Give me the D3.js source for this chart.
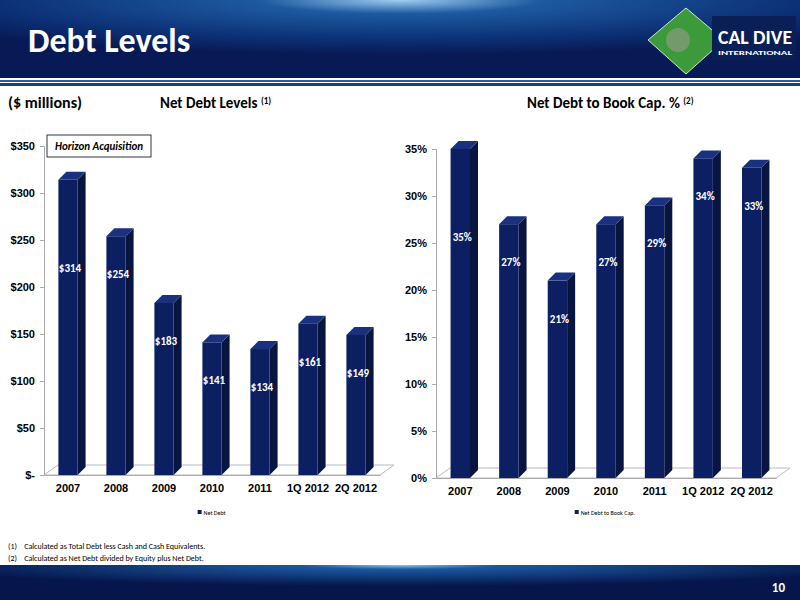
<!DOCTYPE html>
<html><head><meta charset="utf-8">
<script src="https://cdn.jsdelivr.net/npm/d3@7"></script>
<style>body{margin:0;background:#fff}svg{display:block;font-family:Calibri,"Liberation Sans Narrow","Open Sans",sans-serif}</style>
</head><body>
<script>
const categories = ["2007","2008","2009","2010","2011","1Q 2012","2Q 2012"];
const netDebt = [314,254,183,141,134,161,149];
const netDebtPct = [35,27,21,27,29,34,33];
const debtTicks = [0,50,100,150,200,250,300,350];
const pctTicks = [0,5,10,15,20,25,30,35];

const svg = d3.select("body").append("svg").attr("width",800).attr("height",600);
const defs = svg.append("defs");
const hg = defs.append("radialGradient").attr("id","hdr").attr("cx","0.5").attr("cy","0").attr("r","0.7");
hg.append("stop").attr("offset","0").attr("stop-color","#9fd0f0");
hg.append("stop").attr("offset","0.25").attr("stop-color","#1d5aa0");
hg.append("stop").attr("offset","0.7").attr("stop-color","#0d3278");
hg.append("stop").attr("offset","1").attr("stop-color","#081a55");
const fg = defs.append("radialGradient").attr("id","ftr").attr("cx","0.5").attr("cy","0").attr("r","0.6");
fg.append("stop").attr("offset","0").attr("stop-color","#8fc8f0");
fg.append("stop").attr("offset","0.2").attr("stop-color","#1b58a0");
fg.append("stop").attr("offset","1").attr("stop-color","#06164c");

// header
svg.append("rect").attr("width",800).attr("height",78).attr("fill","url(#hdr)");
svg.append("rect").attr("y",78).attr("width",800).attr("height",2).attr("fill","#ffffff");
svg.append("rect").attr("y",80).attr("width",800).attr("height",2).attr("fill","#2a5aa8");
svg.append("rect").attr("y",82).attr("width",800).attr("height",1).attr("fill","#ffffff");
svg.append("rect").attr("y",83).attr("width",800).attr("height",3).attr("fill","#1a3f8a");
svg.append("text").attr("x",28).attr("y",52).attr("fill","#fff").attr("font-size",34).attr("font-weight","bold").text("Debt Levels");
// logo
svg.append("path").attr("d","M686,8 L724,40 L686,74 L648,40 Z").attr("fill","#3c9a3a").attr("stroke","#cfe8c8");
svg.append("circle").attr("cx",678).attr("cy",40).attr("r",12).attr("fill","#8a9a80").attr("opacity",0.7);
svg.append("rect").attr("x",712).attr("y",16).attr("width",84).attr("height",44).attr("fill","#0a1f55");
svg.append("text").attr("x",718).attr("y",44).attr("fill","#fff").attr("font-size",20).attr("font-weight","bold")
  .attr("textLength",74).attr("lengthAdjust","spacingAndGlyphs").text("CAL DIVE");
svg.append("text").attr("x",718).attr("y",55).attr("fill","#fff").attr("font-size",6.5).attr("font-weight","bold")
  .attr("textLength",74).attr("lengthAdjust","spacingAndGlyphs").text("INTERNATIONAL");

// footer
svg.append("rect").attr("y",565).attr("width",800).attr("height",35).attr("fill","url(#ftr)");
svg.append("text").attr("x",785).attr("y",592).attr("text-anchor","end").attr("fill","#fff").attr("font-size",13).attr("font-weight","bold").text("10");

// titles
svg.append("text").attr("x",8).attr("y",108).attr("font-size",16).attr("font-weight","bold").text("($ millions)");
const t1 = svg.append("text").attr("x",160).attr("y",108).attr("font-size",15).attr("font-weight","bold").text("Net Debt Levels ");
t1.append("tspan").attr("font-size",9).attr("dy",-4).text("(1)");
const t2 = svg.append("text").attr("x",527).attr("y",108).attr("font-size",15).attr("font-weight","bold").text("Net Debt to Book Cap. % ");
t2.append("tspan").attr("font-size",9).attr("dy",-4).text("(2)");

// footnotes
svg.append("text").attr("x",8).attr("y",549).attr("font-size",8).text("(1)\u00a0\u00a0\u00a0\u00a0Calculated as Total Debt less Cash and Cash Equivalents.");
svg.append("text").attr("x",8).attr("y",561).attr("font-size",8).text("(2)\u00a0\u00a0\u00a0\u00a0Calculated as Net Debt divided by Equity plus Net Debt.");

const DX = 8, DY = 8;
function drawChart(opt) {
  const {values, ticks, x0, x1, yTop, yBot, fmtTick, fmtVal, max, legend} = opt;
  const g = svg.append("g");
  const x = d3.scaleBand().domain(categories).range([x0, x1]).paddingInner(0.6).paddingOuter(0.3);
  const y = d3.scaleLinear().domain([0, max]).range([yBot, yTop]);
  // floor
  g.append("path").attr("d",`M${x0},${yBot} L${x1},${yBot} L${x1+DX+6},${yBot-DY-2} L${x0+DX+6},${yBot-DY-2} Z`)
    .attr("fill","none").attr("stroke","#bbb");
  // axis
  const ya = g.append("g").attr("transform",`translate(${x0},0)`)
    .call(d3.axisLeft(y).tickValues(ticks).tickSize(4).tickFormat(fmtTick));
  ya.select(".domain").attr("stroke","#aaa");
  ya.selectAll("line").attr("stroke","#aaa");
  ya.selectAll("text").attr("font-size",11).attr("font-weight","bold").attr("fill","#000").attr("dx",-2);
  const xa = g.append("g").attr("transform",`translate(0,${yBot})`)
    .call(d3.axisBottom(x).tickSize(0));
  xa.select(".domain").attr("stroke","#aaa");
  xa.selectAll("text").attr("font-size",11).attr("font-weight","bold").attr("fill","#000").attr("dy",14);
  // bars
  const bw = x.bandwidth();
  const bars = g.selectAll(".bar").data(values).join("g");
  bars.append("path").attr("fill","#081540")
    .attr("d",(d,i)=>{const l=x(categories[i]),t=y(d);return `M${l+bw},${t} L${l+bw+DX},${t-DY} L${l+bw+DX},${yBot-DY} L${l+bw},${yBot} Z`;});
  bars.append("path").attr("fill","#1a3180")
    .attr("d",(d,i)=>{const l=x(categories[i]),t=y(d);return `M${l},${t} L${l+DX},${t-DY} L${l+bw+DX},${t-DY} L${l+bw},${t} Z`;});
  bars.append("rect").attr("fill","#0c1f62")
    .attr("x",(d,i)=>x(categories[i])).attr("y",d=>y(d)).attr("width",bw).attr("height",d=>yBot-y(d));
  bars.append("text").attr("fill","#fff").attr("font-size",11).attr("font-weight","bold").attr("text-anchor","middle")
    .attr("x",(d,i)=>x(categories[i])+bw/2+2)
    .attr("y",(d,i)=>y(d)+(i===0?92:42)).text(fmtVal);
  // legend
  const lx = (x0+x1)/2;
  g.append("rect").attr("x",lx-legend.length*1.3-4).attr("y",510).attr("width",4).attr("height",4).attr("fill","#0c1f62");
  g.append("text").attr("x",lx-legend.length*1.3+2).attr("y",514.5).attr("font-size",6).text(legend);
}

drawChart({values:netDebt, ticks:debtTicks, x0:44, x1:380, yTop:146, yBot:475, max:350,
  fmtTick:d=>d===0?"$-":"$"+d, fmtVal:d=>"$"+d, legend:"Net Debt"});
drawChart({values:netDebtPct, ticks:pctTicks, x0:436, x1:776, yTop:149, yBot:478, max:35,
  fmtTick:d=>d+"%", fmtVal:d=>d+"%", legend:"Net Debt to Book Cap."});

// annotation box
svg.append("rect").attr("x",47).attr("y",135).attr("width",104).attr("height",22).attr("fill","#fff").attr("stroke","#334");
svg.append("text").attr("x",99).attr("y",150).attr("text-anchor","middle").attr("font-size",11).attr("font-weight","bold").attr("font-style","italic").text("Horizon Acquisition");
</script>
</body></html>
